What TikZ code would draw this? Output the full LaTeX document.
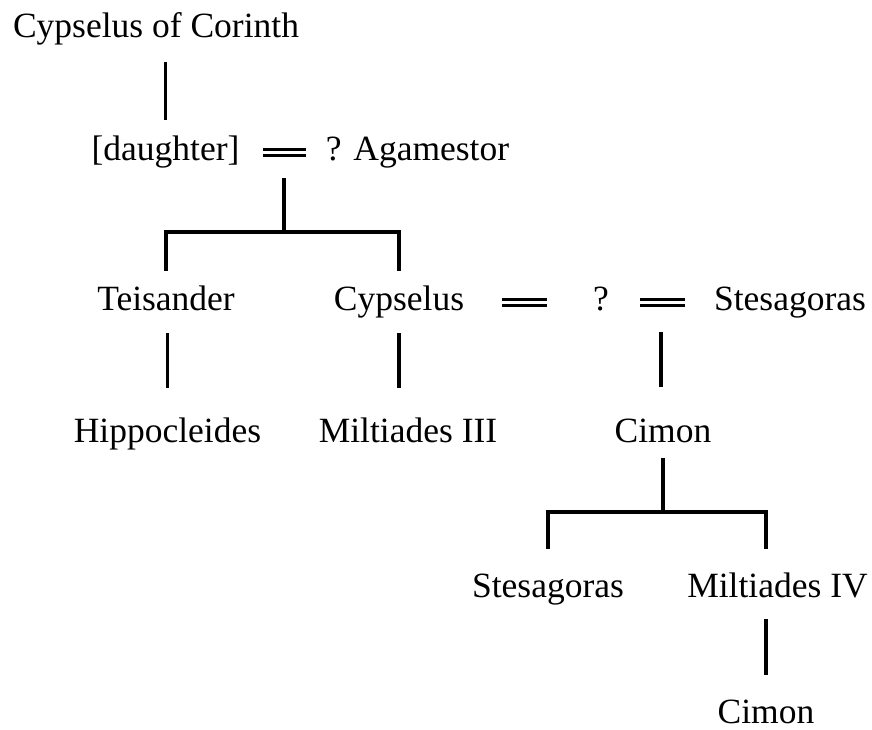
\documentclass[tikz,border=0pt]{standalone}
\usepackage{fontspec}
\setmainfont{Liberation Serif}

\begin{document}
\begin{tikzpicture}[
    x=1pt, y=-1pt,
    person/.style={
        font=\fontsize{35.5}{42}\selectfont,
        inner sep=0pt, text height=24pt, text depth=9pt, anchor=base
    },
    line/.style={draw, line width=3.5pt},
    marriage/.style={draw, line width=3pt, double, double distance=3pt}
]
\useasboundingbox (0,0) rectangle (872,729);

% --- First generations ---
\node[person] (CypselusCorinth) at (156,37) {Cypselus of Corinth};
\node[person] (Daughter) at (165.5,160) {[daughter]};
\node[person] (Agamestor) at (417.5,160) {? Agamestor};

% --- Children of the daughter ---
\node[person] (Teisander) at (166,310) {Teisander};
\node[person] (Cypselus) at (399,310) {Cypselus};
\node[person] (Unknown) at (601,310) {?};
\node[person] (Stesagoras) at (790,310) {Stesagoras};

% --- Next generation ---
\node[person] (Hippocleides) at (167.5,442) {Hippocleides};
\node[person] (MiltiadesIII) at (408,442) {Miltiades III};
\node[person] (Cimon) at (663,442) {Cimon};

% --- Sons of Cimon ---
\node[person] (StesagorasII) at (548,597) {Stesagoras};
\node[person] (MiltiadesIV) at (777.5,597) {Miltiades IV};
\node[person, text depth=3pt] (CimonII) at (766,723) {Cimon};

% --- Junction points ---
\coordinate (MarriageA) at (284,178);
\coordinate (ForkA) at (284,232);
\coordinate (MarriageB) at (661,332);
\coordinate (ForkB) at (663,512);

% --- Cypselus of Corinth - daughter ---
\draw[line, shorten <=16pt, shorten >=16pt] (CypselusCorinth.south -| Daughter) -- (Daughter.north);

% --- Marriage daughter = Agamestor ---
\draw[marriage, shorten <=23pt, shorten >=20pt] (Daughter.east) -- (Agamestor.west);
\draw[line] (MarriageA) -- (ForkA);
\draw[line, shorten <=15pt, shorten >=15pt] (Teisander.north) |- (ForkA) -| (Cypselus.north);

% --- Teisander - Hippocleides, Cypselus - Miltiades III ---
\draw[line, shorten <=14pt, shorten >=30pt] (Teisander.south -| Hippocleides) -- (Hippocleides.north);
\draw[line, shorten <=14pt, shorten >=30pt] (Cypselus.south) -- (Cypselus.south |- MiltiadesIII.north);

% --- Marriages Cypselus = ? = Stesagoras ---
\draw[marriage, shorten <=38pt, shorten >=46pt] (Cypselus.east) -- (Unknown.west);
\draw[marriage, shorten <=31pt, shorten >=29pt] (Unknown.east) -- (Stesagoras.west);
\draw[line, shorten >=31pt] (MarriageB) -- (MarriageB |- Cimon.north);

% --- Cimon - Stesagoras, Miltiades IV ---
\draw[line, shorten <=7pt] (Cimon.south) -- (ForkB);
\draw[line, shorten <=24pt, shorten >=24pt] (StesagorasII.north) |- (ForkB) -| (MiltiadesIV.north -| CimonII);

% --- Miltiades IV - Cimon ---
\draw[line, shorten <=13pt, shorten >=24pt] (MiltiadesIV.south -| CimonII) -- (CimonII.north);

\end{tikzpicture}
\end{document}
